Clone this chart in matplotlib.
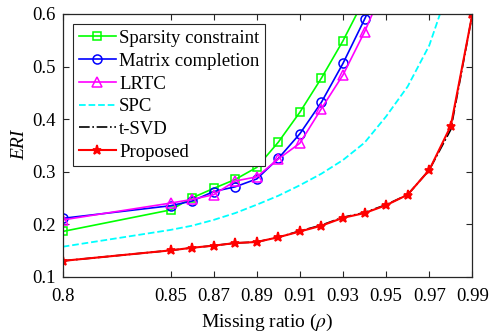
import numpy as np
import matplotlib
matplotlib.use('Agg')
import matplotlib.pyplot as plt

plt.rcParams['font.family'] = ['Liberation Serif', 'DejaVu Serif']
plt.rcParams['mathtext.fontset'] = 'stix'

# missing ratios
rho = [0.80, 0.85, 0.86, 0.87, 0.88, 0.89, 0.90, 0.91, 0.92, 0.93,
       0.94, 0.95, 0.96, 0.97, 0.98, 0.99]

# ERI values per method
eri_sparsity = [0.186, 0.227, 0.250, 0.268, 0.285, 0.308, 0.356, 0.413,
                0.478, 0.549, 0.629]
eri_matrix = [0.211, 0.235, 0.244, 0.262, 0.271, 0.286, 0.325, 0.372,
              0.432, 0.506, 0.590, 0.680]
eri_lrtc = [0.208, 0.240, 0.247, 0.256, 0.282, 0.290, 0.324, 0.354,
            0.420, 0.484, 0.566, 0.660]
eri_spc = [0.157, 0.189, 0.197, 0.208, 0.221, 0.237, 0.254, 0.274,
           0.296, 0.322, 0.355, 0.405, 0.462, 0.540, 0.660]
eri_tsvd = [0.130, 0.150, 0.155, 0.159, 0.164, 0.166, 0.175, 0.187,
            0.198, 0.213, 0.222, 0.237, 0.256, 0.303, 0.380, 0.600]
eri_proposed = [0.130, 0.150, 0.155, 0.159, 0.164, 0.166, 0.175, 0.186,
                0.197, 0.212, 0.221, 0.236, 0.256, 0.303, 0.387, 0.600]

xticks = [0.8, 0.85, 0.87, 0.89, 0.91, 0.93, 0.95, 0.97, 0.99]
xticklabels = ['0.8', '0.85', '0.87', '0.89', '0.91', '0.93', '0.95', '0.97', '0.99']
yticks = [0.1, 0.2, 0.3, 0.4, 0.5, 0.6]
yticklabels = ['0.1', '0.2', '0.3', '0.4', '0.5', '0.6']

fs = 13.5
fig = plt.figure(figsize=(4.9, 3.32), dpi=100)
ax = fig.add_axes([0.128, 0.1667, 0.836, 0.7912])

ax.plot(rho[:len(eri_sparsity)], eri_sparsity, '-s', color='#00ff00', lw=1.2,
        ms=5.5, mfc='none', mew=1.1, label='Sparsity constraint')
ax.plot(rho[:len(eri_matrix)], eri_matrix, '-o', color='#0000ff', lw=1.2,
        ms=6.5, mfc='none', mew=1.1, label='Matrix completion')
ax.plot(rho[:len(eri_lrtc)], eri_lrtc, '-^', color='#ff00ff', lw=1.2,
        ms=7, mfc='none', mew=1.1, label='LRTC')
ax.plot(rho[:len(eri_spc)], eri_spc, '--', color='#00ffff', lw=1.3,
        label='SPC')
ax.plot(rho, eri_tsvd, '-.', color='black', lw=1.2, label='t-SVD')
ax.plot(rho, eri_proposed, '-*', color='#ff0000', lw=1.5, ms=6.5, mew=1.3,
        label='Proposed')

ax.set_xlim(0.8, 0.99)
ax.set_ylim(0.1, 0.6)
ax.set_xticks(xticks)
ax.set_xticklabels(xticklabels, fontsize=fs)
ax.set_yticks(yticks)
ax.set_yticklabels(yticklabels, fontsize=fs)
ax.tick_params(axis='x', pad=8)
ax.tick_params(direction='in', top=True, right=True, length=4, width=0.8,
               color='#262626')
ax.tick_params(axis='y', pad=5)
for s in ax.spines.values():
    s.set_color('#262626')
    s.set_linewidth(0.9)

ax.set_xlabel(r'Missing ratio ($\rho$)', fontsize=fs + 0.5, labelpad=5)
ax.set_ylabel('ERI', fontsize=fs + 0.5, style='italic', labelpad=3)

leg = ax.legend(loc='upper left', bbox_to_anchor=(0, 1), borderaxespad=0.55,
                fontsize=fs, handlelength=2.0, handletextpad=0.15,
                labelspacing=0.3, borderpad=0.3, fancybox=False,
                framealpha=1, edgecolor='#262626')
leg.get_frame().set_linewidth(0.8)

fig.savefig('out.png', dpi=100)
